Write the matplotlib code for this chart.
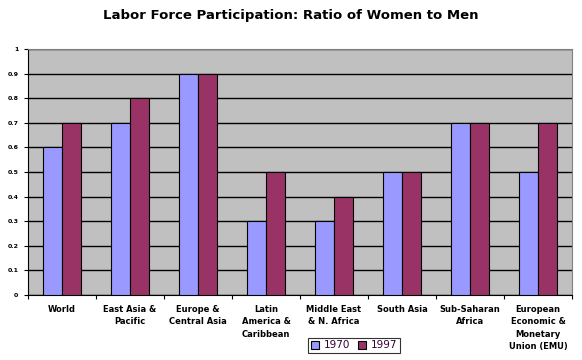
import numpy as np
import matplotlib.pyplot as plt

# データ
regions = ["World", "East Asia &\nPacific", "Europe &\nCentral Asia",
           "Latin\nAmerica &\nCaribbean", "Middle East\n& N. Africa",
           "South Asia", "Sub-Saharan\nAfrica",
           "European\nEconomic &\nMonetary\nUnion (EMU)"]
ratio_1970 = [0.6, 0.7, 0.9, 0.3, 0.3, 0.5, 0.7, 0.5]
ratio_1997 = [0.7, 0.8, 0.9, 0.5, 0.4, 0.5, 0.7, 0.7]
yticks = [0, 0.1, 0.2, 0.3, 0.4, 0.5, 0.6, 0.7, 0.8, 0.9, 1]
ytick_labels = ["0", "0.1", "0.2", "0.3", "0.4", "0.5", "0.6", "0.7", "0.8", "0.9", "1"]

W, H = 582, 360
fig = plt.figure(figsize=(W / 100, H / 100), dpi=100)
ax = fig.add_axes([28 / W, 1 - 295 / H, (572 - 28) / W, (295 - 49) / H])

x = np.arange(len(regions))
bw = 0.28
ax.bar(x - bw / 2, ratio_1970, bw, color="#9999FF", edgecolor="black", lw=0.8,
       label="1970", zorder=3)
ax.bar(x + bw / 2, ratio_1997, bw, color="#993366", edgecolor="black", lw=0.8,
       label="1997", zorder=3)

ax.set_facecolor("#C0C0C0")
ax.set_xlim(-0.5, len(regions) - 0.5)
ax.set_ylim(0, 1)
ax.set_yticks(yticks)
ax.set_yticklabels(ytick_labels, fontsize=4.5, fontweight="bold")
ax.yaxis.grid(True, color="black", lw=1, zorder=1)
ax.set_axisbelow(True)

# カテゴリ境界の目盛り
ax.set_xticks(np.arange(len(regions) + 1) - 0.5)
ax.set_xticklabels([])
ax.tick_params(axis="x", length=3, width=0.8)
ax.tick_params(axis="y", length=3, width=0.8, pad=4)
for i, r in enumerate(regions):
    ax.text(i, -0.04, r, ha="center", va="top", fontsize=6, fontweight="bold",
            linespacing=1.5, transform=ax.get_xaxis_transform())

for s in ["top", "right"]:
    ax.spines[s].set_color("#808080")
    ax.spines[s].set_linewidth(0.8)
for s in ["left", "bottom"]:
    ax.spines[s].set_color("black")
    ax.spines[s].set_linewidth(0.8)

fig.text(291 / W, 1 - 15 / H, "Labor Force Participation: Ratio of Women to Men",
         ha="center", va="center", fontsize=9.5, fontweight="heavy")

leg = fig.legend(loc="center", bbox_to_anchor=(354 / W, 1 - 345.5 / H), ncol=2,
                 fontsize=7.5, frameon=True, fancybox=False, edgecolor="black",
                 handlelength=0.8, handleheight=0.8, handletextpad=0.4,
                 columnspacing=0.8, borderpad=0.25, borderaxespad=0)
leg.get_frame().set_linewidth(0.8)
for t in leg.get_texts():
    t.set_color("#330033")

fig.savefig("out.png", dpi=100)
